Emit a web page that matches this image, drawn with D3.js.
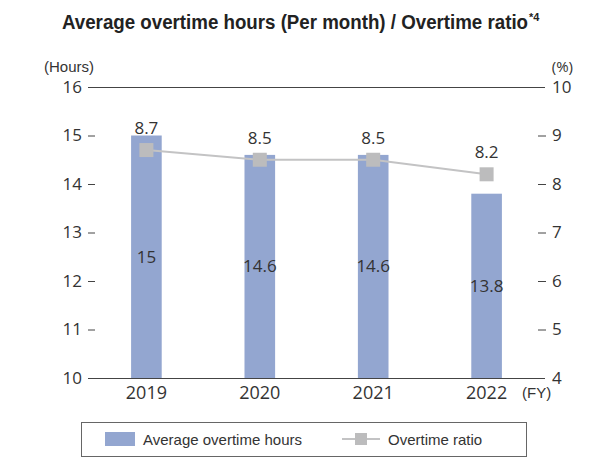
<!DOCTYPE html>
<html lang="en">
<head>
<meta charset="utf-8">
<title>Average overtime hours / Overtime ratio</title>
<style>
  body { margin: 0; background: #fff; }
  svg text { font-family: "Open Sans", "Noto Sans", sans-serif; fill: #333; }
</style>
</head>
<body>
<div id="chart"></div>
<script src="https://d3js.org/d3.v7.min.js"></script>
<script>
// chart values
var years = ["2019", "2020", "2021", "2022"];
var hours = [15, 14.6, 14.6, 13.8];
var ratio = [8.7, 8.5, 8.5, 8.2];
var hourTicks = [10, 11, 12, 13, 14, 15, 16];
var ratioTicks = [4, 5, 6, 7, 8, 9, 10];

var width = 614, height = 461;
var plotLeft = 88, plotRight = 545, plotTop = 87, plotBottom = 378;

var svg = d3.select("#chart").append("svg")
    .attr("width", width)
    .attr("height", height);

// title (condensed bold)
var title = svg.append("text")
    .attr("x", 62).attr("y", 29)
    .style("font-family", "'Liberation Sans', 'Roboto', sans-serif")
    .style("font-weight", "bold")
    .style("font-size", "20px")
    .style("fill", "#222");
title.append("tspan")
    .attr("textLength", 466).attr("lengthAdjust", "spacingAndGlyphs")
    .text("Average overtime hours (Per month) / Overtime ratio");
title.append("tspan")
    .attr("dy", -8)
    .attr("dx", 1)
    .style("font-size", "11px")
    .text("*4");

// scales
var x = d3.scaleBand().domain(years).range([plotLeft, plotRight]).paddingInner(0.73).paddingOuter(0.38);
var y = d3.scaleLinear().domain([10, 16]).range([plotBottom, plotTop]);
var y2 = d3.scaleLinear().domain([4, 10]).range([plotBottom, plotTop]);

// bars
svg.selectAll(".bar").data(hours).enter().append("rect")
    .attr("class", "bar")
    .attr("x", function(d, i) { return x(years[i]); })
    .attr("width", x.bandwidth())
    .attr("y", function(d) { return y(d); })
    .attr("height", function(d) { return plotBottom - y(d); })
    .style("fill", "#93a6d0");

// frame lines top & bottom
[plotTop, plotBottom].forEach(function(v) {
  svg.append("line")
      .attr("x1", plotLeft).attr("x2", plotRight)
      .attr("y1", v + 0.5).attr("y2", v + 0.5)
      .style("stroke", "#444").style("stroke-width", 1);
});

// left axis
var yAxis = d3.axisLeft(y).tickValues(hourTicks).tickFormat(d3.format("d")).tickSize(0).tickPadding(6);
var gy = svg.append("g").attr("transform", "translate(" + plotLeft + ",0)").call(yAxis);
gy.select(".domain").remove();
gy.selectAll("text").style("font-size", "17px").attr("fill", "#333");
svg.selectAll(".ldash").data(hourTicks.slice(1, -1)).enter().append("line")
    .attr("x1", plotLeft).attr("x2", plotLeft + 7)
    .attr("y1", function(d) { return y(d) + 0.5; }).attr("y2", function(d) { return y(d) + 0.5; })
    .style("stroke", "#444");

// right axis
var yAxis2 = d3.axisRight(y2).tickValues(ratioTicks).tickFormat(d3.format("d")).tickSize(0).tickPadding(7);
var gy2 = svg.append("g").attr("transform", "translate(" + plotRight + ",0)").call(yAxis2);
gy2.select(".domain").remove();
gy2.selectAll("text").style("font-size", "17px").attr("fill", "#333");
svg.selectAll(".rdash").data(ratioTicks.slice(1, -1)).enter().append("line")
    .attr("x1", plotRight - 7).attr("x2", plotRight + 1)
    .attr("y1", function(d) { return y2(d) + 0.5; }).attr("y2", function(d) { return y2(d) + 0.5; })
    .style("stroke", "#444");

// unit labels
svg.append("text").attr("x", 44).attr("y", 72).style("font-size", "15px")
    .style("font-family", "'Liberation Sans', Arial, sans-serif").text("(Hours)");
svg.append("text").attr("x", 573).attr("y", 72).attr("text-anchor", "end").style("font-size", "15px")
    .text("(%)");

// x axis labels
var xAxis = d3.axisBottom(x).tickSize(0).tickPadding(8);
var gx = svg.append("g").attr("transform", "translate(0," + plotBottom + ")").call(xAxis);
gx.select(".domain").remove();
gx.selectAll("text").style("font-size", "18px").attr("fill", "#333");
svg.append("text").attr("x", 522).attr("y", 398).style("font-size", "15px")
    .style("font-family", "'Liberation Sans', Arial, sans-serif").text("(FY)");

// bar labels in middle of bar
svg.selectAll(".blabel").data(hours).enter().append("text")
    .attr("x", function(d, i) { return x(years[i]) + x.bandwidth() / 2; })
    .attr("y", function(d) { return (y(d) + plotBottom) / 2 + 6; })
    .attr("text-anchor", "middle")
    .style("font-size", "17px")
    .text(function(d) { return d; });

// ratio line
var line = d3.line()
    .x(function(d, i) { return x(years[i]) + x.bandwidth() / 2; })
    .y(function(d) { return y2(d); });
svg.append("path").attr("d", line(ratio))
    .style("fill", "none").style("stroke", "#c3c3c4").style("stroke-width", 2);

svg.selectAll(".mark").data(ratio).enter().append("rect")
    .attr("x", function(d, i) { return x(years[i]) + x.bandwidth() / 2 - 7; })
    .attr("y", function(d) { return y2(d) - 7; })
    .attr("width", 14).attr("height", 14)
    .style("fill", "#bcbcbd");

svg.selectAll(".rlabel").data(ratio).enter().append("text")
    .attr("x", function(d, i) { return x(years[i]) + x.bandwidth() / 2; })
    .attr("y", function(d) { return y2(d) - 16; })
    .attr("text-anchor", "middle")
    .style("font-size", "17px")
    .text(function(d) { return d; });

// legend
var lg = svg.append("g");
lg.append("rect").attr("x", 81.5).attr("y", 422.5).attr("width", 445).attr("height", 34)
    .style("fill", "#fff").style("stroke", "#666");
lg.append("rect").attr("x", 105).attr("y", 432).attr("width", 30).attr("height", 14).style("fill", "#93a6d0");
lg.append("text").attr("x", 143).attr("y", 445).style("font-size", "15px")
    .style("font-family", "'Liberation Sans', Arial, sans-serif").text("Average overtime hours");
lg.append("line").attr("x1", 342).attr("x2", 380).attr("y1", 439).attr("y2", 439)
    .style("stroke", "#c3c3c4").style("stroke-width", 2);
lg.append("rect").attr("x", 355).attr("y", 433).attr("width", 12).attr("height", 12).style("fill", "#bcbcbd");
lg.append("text").attr("x", 388).attr("y", 445).style("font-size", "15px")
    .style("font-family", "'Liberation Sans', Arial, sans-serif").text("Overtime ratio");
</script>
</body>
</html>
